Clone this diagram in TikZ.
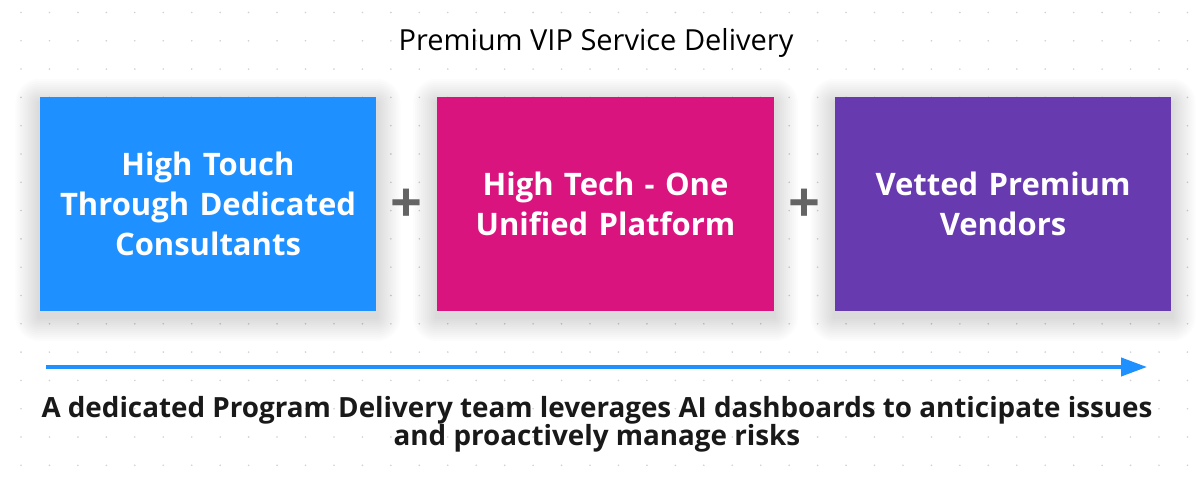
\documentclass[tikz,border=0pt]{standalone}
\usepackage{fontspec}
\setmainfont{Open Sans}
\usetikzlibrary{arrows.meta,backgrounds,calc}
\definecolor{cblue}{RGB}{30,144,255}
\definecolor{cpink}{RGB}{218,20,126}
\definecolor{cpurple}{RGB}{103,58,176}
\definecolor{cplus}{RGB}{100,100,100}
\definecolor{ctext}{RGB}{25,25,25}
\tikzset{
  card/.style={draw=none, minimum width=336pt, minimum height=214pt, text width=330pt, align=center,
    text=white, font=\fontsize{31}{40}\selectfont\bfseries},
  plus/.style={text=cplus, font=\fontsize{56}{56}\selectfont\bfseries},
  dot/.style={fill=black!18, draw=none},
  shadowlayer/.style={fill=black, opacity=0.011},
}
\begin{document}
\begin{tikzpicture}[x=1pt,y=-1pt]
\useasboundingbox (0,0) rectangle (1199,478);
\node (title) at (596,43) {\fontsize{29}{30}\selectfont Premium VIP Service Delivery};
\node[card, fill=cblue] (c1) at (208,204) {High Touch\\Through Dedicated\\Consultants};
\node[card, fill=cpink] (c2) at (605.5,204) {High Tech - One\\Unified Platform};
\node[card, fill=cpurple] (c3) at (1003,204) {Vetted Premium\\Vendors};
\node[plus] (p1) at ($(c1.east)!0.5!(c2.west)+(0,2)$) {+};
\node[plus] (p2) at ($(c2.east)!0.5!(c3.west)+(0,2)$) {+};
\coordinate (a1) at (46,367);
\coordinate (a2) at (1147,367);
\draw[cblue, line width=4pt, -{Triangle[length=26pt,width=18pt]}] (a1) -- (a2);
\node[align=center, text=ctext, font=\fontsize{27.8}{28}\selectfont\bfseries] (foot) at (597,424)
  {A dedicated Program Delivery team leverages AI dashboards to anticipate issues\\and proactively manage risks};
\begin{scope}[on background layer]
  \fill[white] (0,0) rectangle (1199,478);
  \foreach \i in {0,...,41} {
    \foreach \j in {0,...,16} {
      \fill[dot] (21+28.45*\i, 12.5+28.3*\j) circle (0.9);
    }
  }
  \foreach \c in {c1,c2,c3} {
    \foreach \k in {2,4,...,24} {
      \fill[shadowlayer, rounded corners=\k pt]
        ([xshift=-\k pt, yshift=-\k pt-6pt]\c.south west) rectangle ([xshift=\k pt, yshift=\k pt-6pt]\c.north east);
    }
  }
\end{scope}
\end{tikzpicture}
\end{document}
